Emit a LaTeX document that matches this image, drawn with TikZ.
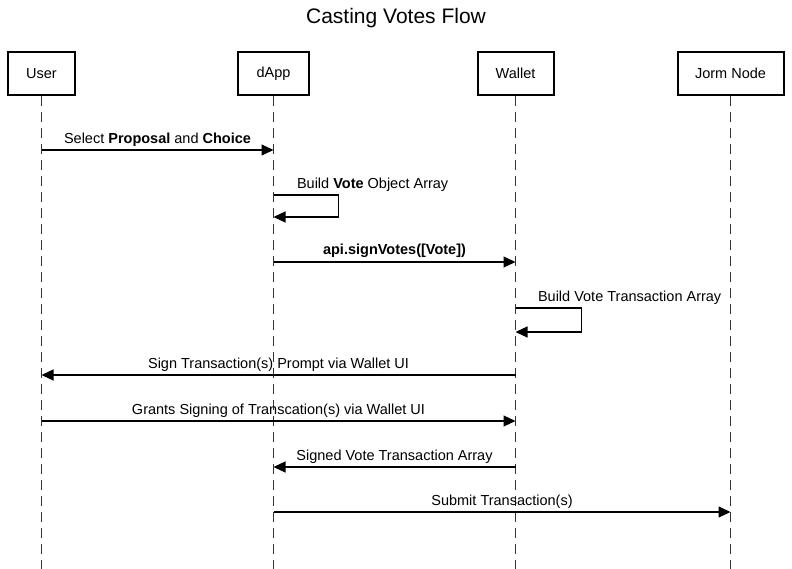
\documentclass[tikz,border=0pt]{standalone}
\usepackage{fontspec}
\setmainfont{Liberation Sans}
\usetikzlibrary{arrows.meta}
\usetikzlibrary{positioning}

\begin{document}
\begin{tikzpicture}[
				x=1pt, y=-1pt,
				arrow/.style={line width=1.2pt, -{Triangle[length=12pt, width=11pt]}},
				block/.style={draw, line width=2pt, minimum height=43pt, inner sep=0pt, font=\fontsize{14.5}{16}\selectfont},
				lifeline/.style={line width=1.2pt, draw=black!80, dash pattern=on 10pt off 6pt},
				label/.style={font=\fontsize{14.5}{16}\selectfont},
			]
				\useasboundingbox (0,0) rectangle (792,569);
				\node (title) at (396,18) {\fontsize{21}{24}\selectfont Casting Votes Flow};
				
				\node (user) [block, minimum width=67pt] at (41.5,73.5) {User};
				\node (dapp) [block, minimum width=71pt] at (273.5,73.5) {dApp};
				\node (wallet) [block, minimum width=76pt] at (515.5,73.5) {Wallet};
				\node (jorm) [block, minimum width=106pt] at (730.5,73.5) {Jorm Node};
				\coordinate (bottom) at (0,569);
				
				\draw[lifeline] (user) -- (user |- bottom);
				\draw[lifeline] (dapp) -- (dapp |- bottom);
				\draw[lifeline] (wallet) -- (wallet |- bottom);
				\draw[lifeline] (jorm) -- (jorm |- bottom);
				
				\coordinate (m1) at (0,150);
				\coordinate (m2) at (0,195);
				\coordinate (m2b) at (0,217);
				\coordinate (m3) at (0,262);
				\coordinate (m4) at (0,308);
				\coordinate (m4b) at (0,332);
				\coordinate (m5) at (0,375);
				\coordinate (m6) at (0,421);
				\coordinate (m7) at (0,467);
				\coordinate (m8) at (0,512);
				
				\draw[arrow] (user |- m1) -- (dapp |- m1) node[midway, above, label] {Select \textbf{Proposal} and \textbf{Choice}};
				\draw[arrow] (dapp |- m2) -- ([xshift=65pt]dapp |- m2) |- (dapp |- m2b);
				\node[above right, label] at ([xshift=20pt]dapp |- m2) {Build \textbf{Vote} Object Array};
				\draw[arrow] (dapp |- m3) -- (wallet |- m3) node[midway, above, label] {\textbf{api.signVotes([Vote])}};
				\draw[arrow] (wallet |- m4) -- ([xshift=66pt]wallet |- m4) |- (wallet |- m4b);
				\node[above right, label] at ([xshift=19pt]wallet |- m4) {Build Vote Transaction Array};
				\draw[arrow] (wallet |- m5) -- (user |- m5) node[midway, above, label] {Sign Transaction(s) Prompt via Wallet UI};
				\draw[arrow] (user |- m6) -- (wallet |- m6) node[midway, above, label] {Grants Signing of Transcation(s) via Wallet UI};
				\draw[arrow] (wallet |- m7) -- (dapp |- m7) node[midway, above, label] {Signed Vote Transaction Array};
				\draw[arrow] (dapp |- m8) -- (jorm |- m8) node[midway, above, label] {Submit Transaction(s)};
			\end{tikzpicture}
\end{document}
